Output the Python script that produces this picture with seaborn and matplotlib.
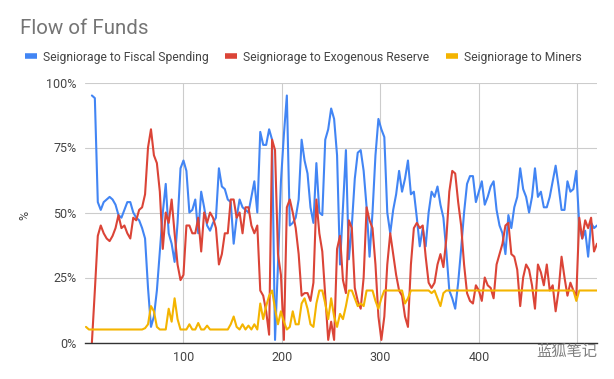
import numpy as np
import pandas as pd
import matplotlib
matplotlib.use("Agg")
import matplotlib.pyplot as plt
from matplotlib.lines import Line2D
import seaborn as sns

nan = np.nan

# block number, sampled every 3 blocks
blocks = list(range(1, 521, 3))

fiscal = [
    nan, nan, 95, 94, 54, 51, 54, 55, 56, 55,
    53, 49, 48, 51, 54, 54, 50, 48, 47, 44,
    40, 21, 6, 10, 20, 35, 50, 61, 42, 38,
    31, 46, 67, 70, 66, 50, 51, 55, 42, 58,
    52, 45, 43, 46, 48, 67, 60, 59, 55, 54,
    38, 48, 55, 52, 51, 50, 56, 62, 50, 81,
    76, 76, 82, 78, 1, 30, 62, 80, 95, 45,
    46, 48, 55, 78, 70, 65, 52, 46, 69, 50,
    49, 78, 82, 90, 86, 72, 30, 52, 74, 32,
    45, 63, 73, 74, 66, 52, 33, 50, 72, 86,
    82, 79, 50, 42, 51, 57, 66, 58, 63, 70,
    57, 58, 48, 37, 44, 37, 50, 58, 56, 60,
    53, 48, 35, 20, 17, 13, 23, 36, 50, 61,
    64, 64, 54, 58, 62, 53, 56, 60, 62, 51,
    45, 42, 34, 49, 44, 52, 56, 67, 59, 56,
    50, 56, 67, 56, 58, 52, 52, 56, 62, 68,
    60, 51, 51, 62, 58, 59, 66, 45, 40, 43,
    33, 46, 44, 45,
]

reserve = [
    nan, nan, 0, 20, 41, 45, 42, 40, 39, 41,
    44, 49, 44, 45, 42, 40, 48, 47, 51, 52,
    57, 75, 82, 72, 69, 58, 36, 50, 46, 55,
    42, 30, 24, 26, 45, 45, 42, 42, 48, 35,
    50, 46, 50, 48, 44, 30, 34, 42, 42, 55,
    55, 48, 50, 42, 52, 52, 45, 42, 45, 20,
    18, 12, 3, 78, 74, 34, 26, 1, 52, 55,
    50, 44, 34, 18, 19, 19, 16, 23, 55, 42,
    35, 18, 1, 8, 1, 36, 41, 24, 19, 47,
    44, 21, 16, 13, 25, 52, 47, 44, 30, 10,
    1, 10, 30, 42, 34, 26, 20, 18, 10, 6,
    30, 44, 46, 44, 45, 33, 23, 21, 23, 30,
    34, 29, 40, 58, 66, 65, 54, 45, 30, 19,
    16, 15, 22, 20, 16, 25, 22, 21, 17, 30,
    34, 38, 45, 46, 34, 33, 28, 14, 25, 30,
    28, 22, 13, 30, 27, 22, 30, 20, 22, 12,
    20, 33, 25, 18, 23, 20, 18, 48, 40, 47,
    44, 48, 35, 38,
]

miners = [
    6, 5, 5, 5, 5, 5, 5, 5, 5, 5,
    5, 5, 5, 5, 5, 5, 5, 5, 5, 5,
    5.5, 7, 14, 12, 6, 5, 5, 5, 13, 8,
    17, 9, 5, 5, 5, 7, 5, 5, 7.5, 5,
    5, 6.5, 5, 5, 5, 5, 5, 5, 5, 7,
    10, 6, 5, 7, 5, 6.5, 5, 7, 5, 15,
    9, 14, 18, 20, 13, 7, 12, 8, 5, 6,
    12, 7, 7, 15, 17, 13, 7, 6, 15, 20,
    20, 15, 9, 17, 10, 6, 11, 9, 14, 20,
    20, 17, 14, 15, 14, 20, 20, 20, 16, 13,
    17, 20, 20, 20, 20, 20, 20, 20, 15, 17,
    20, 20, 20, 20, 20, 20, 20, 19, 20, 17,
    14, 19, 20, 20, 20, 20, 20, 20, 20, 20,
    20, 20, 20, 20, 20, 20, 20, 20, 20, 20,
    20, 20, 20, 20, 20, 20, 20, 20, 20, 20,
    20, 20, 20, 20, 20, 20, 20, 20, 20, 20,
    20, 20, 20, 20, 20, 20, 16, 20, 20, 20,
    20, 20, 20, 20,
]

series_names = ["Seigniorage to Fiscal Spending",
                "Seigniorage to Exogenous Reserve",
                "Seigniorage to Miners"]
colors = ["#4285F4", "#DB4437", "#F4B400"]

df = pd.DataFrame({"block": blocks,
                   series_names[0]: fiscal,
                   series_names[1]: reserve,
                   series_names[2]: miners})
long_df = df.melt(id_vars="block", var_name="series", value_name="pct").dropna()

sns.set_theme(style="whitegrid")
plt.rcParams["font.family"] = ["Roboto", "DejaVu Sans"]

fig = plt.figure(figsize=(6.14, 3.79), dpi=100)
ax = fig.add_axes([85 / 614, 36.5 / 379, 512 / 614, 260 / 379])

sns.lineplot(data=long_df, x="block", y="pct", hue="series",
             hue_order=series_names, palette=colors, estimator=None,
             linewidth=1.5, legend=False, ax=ax)

ax.set_xlim(0, 520)
ax.set_ylim(0, 100)
ax.set_yticks([0, 25, 50, 75, 100])
ax.set_yticklabels(["0%", "25%", "50%", "75%", "100%"])
ax.set_xticks([100, 200, 300, 400, 500])
ax.set_xticklabels(["100", "200", "300", "400", ""])
ax.set_xlabel("")
ax.set_ylabel("")
ax.grid(True, color="#cccccc", linewidth=0.8)
ax.set_facecolor("white")
for side in ["left", "right", "top"]:
    ax.spines[side].set_visible(False)
ax.spines["bottom"].set_color("#333333")
ax.spines["bottom"].set_linewidth(1.0)
ax.tick_params(length=0, labelsize=9, colors="#444444", pad=6)

fig.text(20 / 614, 1 - 28 / 379, "Flow of Funds", fontsize=14.8,
         color="#757575", va="center", ha="left")
fig.text(25 / 614, 1 - 215 / 379, "%", fontsize=9, color="#444444",
         rotation=90, va="center", ha="center")

handles = [Line2D([0], [0], color=c, lw=4, solid_capstyle="butt") for c in colors]
fig.legend(handles, series_names, loc="center left",
           bbox_to_anchor=(14 / 614, 1 - 57 / 379), ncol=3, frameon=False,
           fontsize=8.75, handlelength=1.0, handletextpad=0.45,
           columnspacing=1.4, labelcolor="#444444")

fig.text(567 / 614, 1 - 351 / 379, "蓝狐笔记", fontsize=11, color="#808080",
         family=["Noto Sans CJK SC", "DejaVu Sans"], va="center", ha="center")

fig.savefig("out.png", dpi=100, facecolor="white")
